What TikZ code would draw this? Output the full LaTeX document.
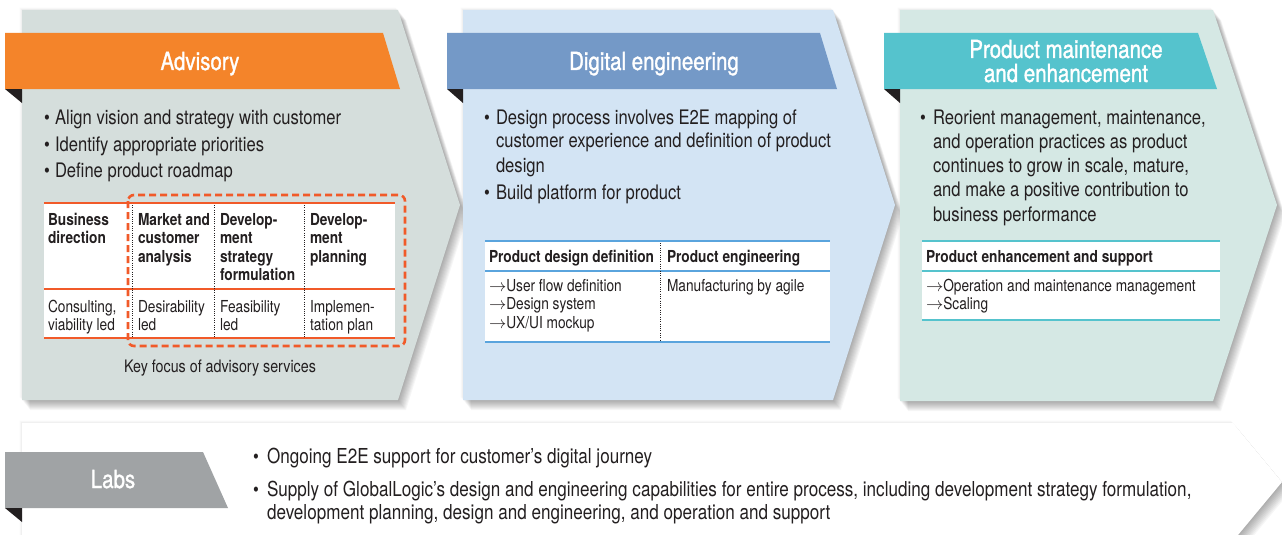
\documentclass[tikz,border=0pt]{standalone}
\usepackage{fontspec}
\setmainfont{TeX Gyre Heros}[FakeStretch=0.83]
\newfontfamily\hdrfont{TeX Gyre Heros}[FakeStretch=0.82,FakeBold=1.2]
\definecolor{txt}{HTML}{231F20}
\definecolor{panA}{HTML}{D5DEDC}
\definecolor{panB}{HTML}{D3E4F4}
\definecolor{panC}{HTML}{D5E8E4}
\definecolor{hA}{HTML}{F4842A}
\definecolor{hB}{HTML}{7499C7}
\definecolor{hC}{HTML}{55C3CD}
\definecolor{labsgray}{HTML}{A0A3A5}
\definecolor{lineA}{HTML}{F15A29}
\definecolor{lineB}{HTML}{5AA4DD}
\definecolor{lineC}{HTML}{55C3CD}
\definecolor{fold}{HTML}{231F20}
\newcommand\mlL[1]{\parbox[t]{420pt}{\raggedright #1}}
\newcommand\mlC[1]{\parbox[t]{420pt}{\centering #1}}
\newcommand\shpA{(22,10) -- (398,10) -- (460,205) -- (398,400) -- (22,400) -- cycle}
\newcommand\shpB{(463,10) -- (833,10) -- (895,205) -- (833,400) -- (463,400) -- cycle}
\newcommand\shpC{(900,10) -- (1213,10) -- (1277,205) -- (1213,401) -- (900,401) -- cycle}
\newcommand\shpL{(22,423) -- (1233,423) -- (1282,482) -- (1233,541) -- (22,541) -- cycle}
\newcommand\softshadow[1]{%
  \foreach \k in {1,...,3}{\fill[black,opacity=0.02,shift={(-\k*0.8,-\k*0.8)}] #1;}
  \foreach \k in {1,...,10}{\fill[black,opacity=0.035,shift={(\k*0.8,\k*1.0)}] #1;}}
\begin{document}
\begin{tikzpicture}[x=1pt,y=-1pt,
  every node/.style={inner sep=0pt,outer sep=0pt,text=txt},
  body/.style={font=\fontsize{20}{24.3}\selectfont,anchor=base west},
  bul/.style={font=\fontsize{20}{24}\selectfont,anchor=base},
  hdr/.style={font=\hdrfont\fontsize{25}{24}\selectfont,text=white,anchor=base},
  thead/.style={font=\bfseries\fontsize{16.5}{18.6}\selectfont,anchor=base west},
  tbody/.style={font=\fontsize{16.5}{18.6}\selectfont,anchor=base west},
  rule/.style={line width=2.6pt},
  dotline/.style={line width=0.9pt,txt,dash pattern=on 0.9pt off 1.4pt},
  foldtri/.style={fill=fold}]
\useasboundingbox (0,0) rectangle (1282,535);
\fill[white] (0,0) rectangle (1282,535);

% ---------- Labs band ----------
\softshadow{\shpL}
\fill[white] \shpL;
\fill[labsgray] (5,452) -- (203,452) -- (228,508) -- (5,508) -- cycle;
\fill[foldtri] (5,508) -- (22,508) -- (22,522) -- cycle;
\node[hdr] (labs) at (113,488) {Labs};
\node[bul] (lb1) at (256,463) {•};
\node[body,font=\fontsize{20.6}{23.3}\selectfont] (lt1) at (267,463) {Ongoing E2E support for customer’s digital journey};
\node[bul] (lb2) at (256,496) {•};
\node[body,font=\fontsize{20.6}{23.3}\selectfont] (lt2) at (267,496) {\parbox[t]{1000pt}{Supply of GlobalLogic’s design and engineering capabilities for entire process, including development strategy formulation,\\development planning, design and engineering, and operation and support}};

% ---------- Panel A: Advisory ----------
\softshadow{\shpA}
\fill[panA] \shpA;
\fill[hA] (5,33) -- (383,33) -- (400,89) -- (5,89) -- cycle;
\fill[foldtri] (5,89) -- (22,89) -- (22,103) -- cycle;
\node[hdr] (advisory) at (200,70) {Advisory};
\node[bul] (ab1) at (47,124) {•};
\node[body] (at1) at (55,124) {Align vision and strategy with customer};
\node[bul] (ab2) at (47,151) {•};
\node[body] (at2) at (55,151) {Identify appropriate priorities};
\node[bul] (ab3) at (47,177) {•};
\node[body] (at3) at (55,177) {Define product roadmap};
% table A
\fill[white] (44,203) rectangle (395,338);
\draw[rule,lineA] (44,203) -- (395,203);
\draw[rule,lineA] (44,289) -- (395,289);
\draw[rule,lineA] (44,338) -- (395,338);
\draw[dotline] (132,205) -- (132,337);
\draw[dotline] (214,205) -- (214,337);
\draw[dotline] (304,205) -- (304,337);
\node[thead] (ah1) at (48,225) {\mlL{Business\\direction}};
\node[thead] (ah2) at (138,225) {\mlL{Market and\\customer\\analysis}};
\node[thead] (ah3) at (220,225) {\mlL{Develop-\\ment\\strategy\\formulation}};
\node[thead] (ah4) at (310,225) {\mlL{Develop-\\ment\\planning}};
\node[tbody] (ac1) at (48,312) {\mlL{Consulting,\\viability led}};
\node[tbody] (ac2) at (138,312) {\mlL{Desirability\\led}};
\node[tbody] (ac3) at (220,312) {\mlL{Feasibility\\led}};
\node[tbody] (ac4) at (310,312) {\mlL{Implemen-\\tation plan}};
\draw[lineA,line width=2.6pt,dash pattern=on 7pt off 4pt,rounded corners=6pt] (128,195) rectangle (405,346);
\node[font=\fontsize{17.2}{20}\selectfont,anchor=base] (keyfocus) at (220,372) {Key focus of advisory services};

% ---------- Panel B: Digital engineering ----------
\softshadow{\shpB}
\fill[panB] \shpB;
\fill[hB] (447,33) -- (820,33) -- (837,89) -- (447,89) -- cycle;
\fill[foldtri] (447,89) -- (463,89) -- (463,103) -- cycle;
\node[hdr] (digital) at (654,70) {Digital engineering};
\node[bul] (bb1) at (487,124) {•};
\node[body,font=\fontsize{20}{24}\selectfont] (bt1) at (496,124) {\mlL{Design process involves E2E mapping of\\customer experience and definition of product\\design}};
\node[bul] (bb2) at (487,199) {•};
\node[body] (bt2) at (496,199) {Build platform for product};
% table B
\fill[white] (485,241) rectangle (830,342);
\draw[rule,lineB] (485,241) -- (830,241);
\draw[rule,lineB] (485,271) -- (830,271);
\draw[rule,lineB] (485,342) -- (830,342);
\draw[dotline] (660,243) -- (660,341);
\node[thead] (bh1) at (489,262) {Product design definition};
\node[thead] (bh2) at (667,262) {Product engineering};
\node[tbody] (bc1) at (489,291) {\mlL{$\rightarrow$User flow definition\\$\rightarrow$Design system\\$\rightarrow$UX/UI mockup}};
\node[tbody] (bc2) at (667,291) {Manufacturing by agile};

% ---------- Panel C: Product maintenance ----------
\softshadow{\shpC}
\fill[panC] \shpC;
\fill[hC] (884,33) -- (1198,33) -- (1217,89) -- (884,89) -- cycle;
\fill[foldtri] (884,89) -- (900,89) -- (900,103) -- cycle;
\node[hdr] (maint) at (1066,58) {\mlC{Product maintenance\\and enhancement}};
\node[bul] (cb1) at (923,124) {•};
\node[body] (ct1) at (933,124) {\mlL{Reorient management, maintenance,\\and operation practices as product\\continues to grow in scale, mature,\\and make a positive contribution to\\business performance}};
% table C
\fill[white] (922,241) rectangle (1220,320);
\draw[rule,lineC] (922,241) -- (1220,241);
\draw[rule,lineC] (922,271) -- (1220,271);
\draw[rule,lineC] (922,320) -- (1220,320);
\node[thead] (ch1) at (926,262) {Product enhancement and support};
\node[tbody] (cc1) at (926,291) {\mlL{$\rightarrow$Operation and maintenance management\\$\rightarrow$Scaling}};
\end{tikzpicture}
\end{document}
